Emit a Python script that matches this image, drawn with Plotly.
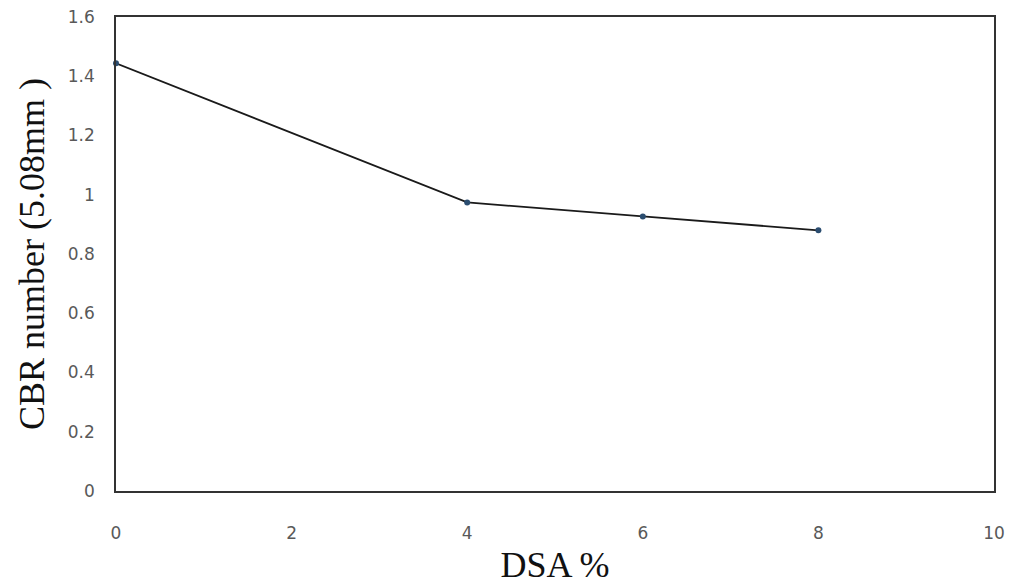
import plotly.graph_objects as go

dsa = [0, 4, 6, 8]
cbr = [1.444, 0.974, 0.927, 0.880]
x_ticks = [0, 2, 4, 6, 8, 10]
y_ticks = [0, 0.2, 0.4, 0.6, 0.8, 1, 1.2, 1.4, 1.6]

fig = go.Figure()
fig.add_trace(go.Scatter(
    x=dsa, y=cbr, mode="lines+markers",
    line=dict(color="#1a1a1a", width=1.8),
    marker=dict(color="#2b4d70", size=6),
    cliponaxis=False,
    showlegend=False,
))

fig.update_layout(
    width=1007, height=577,
    margin=dict(l=108, r=21, t=9, b=94),
    paper_bgcolor="white", plot_bgcolor="white",
    font=dict(family="DejaVu Sans", color="#595959", size=17),
)
fig.update_xaxes(
    range=[0, 10], tickvals=x_ticks, ticktext=[str(v) for v in x_ticks],
    showgrid=False, zeroline=False, automargin=False, ticklabeloverflow="allow",
    showline=True, linecolor="#333333", linewidth=1.5, mirror=True,
    ticks="outside", ticklen=26, tickcolor="rgba(0,0,0,0)",
    title=dict(text="DSA %", font=dict(family="Liberation Serif", size=36, color="#111111"), standoff=14),
)
fig.update_yaxes(
    range=[0, 1.6], tickvals=y_ticks, ticktext=[("%g" % v) for v in y_ticks],
    showgrid=False, zeroline=False, automargin=False, ticklabeloverflow="allow",
    showline=True, linecolor="#333333", linewidth=1.5, mirror=True,
    ticks="outside", ticklen=16, tickcolor="rgba(0,0,0,0)",
    title=dict(text="CBR number (5.08mm )", font=dict(family="Liberation Serif", size=36, color="#111111"), standoff=12),
)

fig.write_html("out.html")
